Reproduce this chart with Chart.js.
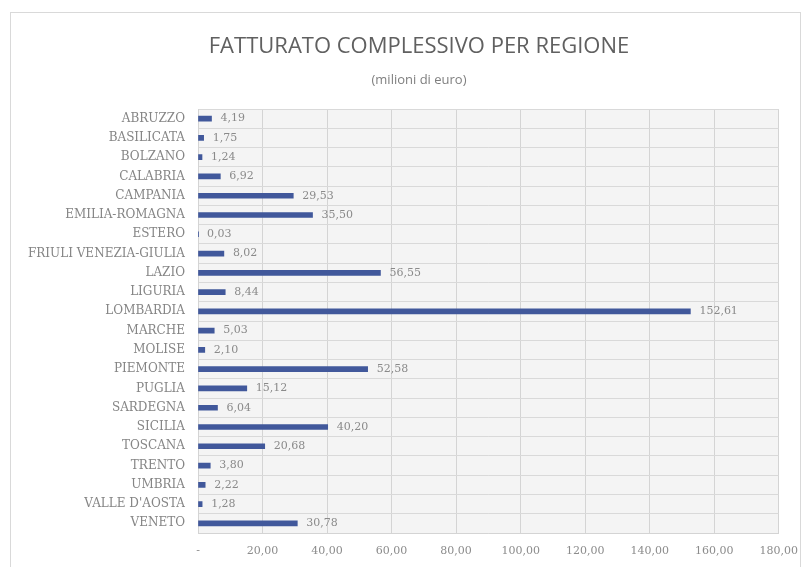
<!DOCTYPE html>
<html lang="it">
<head>
    <meta charset="UTF-8">
    <title>Fatturato complessivo per regione</title>
    <script src="https://cdn.jsdelivr.net/npm/chart.js"></script>
    <style>
        html, body { margin: 0; padding: 0; background: #ffffff; }
        #box { width: 810px; height: 567px; }
    </style>
</head>
<body>
<div id="box"><canvas id="fatturatoChart"></canvas></div>

<script>
    const regioni = ['ABRUZZO', 'BASILICATA', 'BOLZANO', 'CALABRIA', 'CAMPANIA', 'EMILIA-ROMAGNA', 'ESTERO',
        'FRIULI VENEZIA-GIULIA', 'LAZIO', 'LIGURIA', 'LOMBARDIA', 'MARCHE', 'MOLISE', 'PIEMONTE', 'PUGLIA',
        'SARDEGNA', 'SICILIA', 'TOSCANA', 'TRENTO', 'UMBRIA', "VALLE D'AOSTA", 'VENETO'];
    const fatturato = [4.19, 1.75, 1.24, 6.92, 29.53, 35.50, 0.03, 8.02, 56.55, 8.44, 152.61, 5.03, 2.10,
        52.58, 15.12, 6.04, 40.20, 20.68, 3.80, 2.22, 1.28, 30.78];
    const asseMin = 0;
    const asseMax = 180;
    const asseStep = 20;
    const titolo = 'FATTURATO COMPLESSIVO PER REGIONE';
    const sottotitolo = '(milioni di euro)';

    const virgola = v => v.toFixed(2).replace('.', ',');

    // cornice, sfondo dell'area e titoli (il titolo non e' centrato sul canvas)
    const sfondo = {
        id: 'sfondo',
        beforeDraw(chart) {
            const { ctx, chartArea: a } = chart;
            ctx.save();
            ctx.strokeStyle = '#d9d9d9';
            ctx.lineWidth = 1;
            ctx.strokeRect(10.5, 12.5, 790, 560);
            ctx.fillStyle = '#f4f4f4';
            ctx.fillRect(a.left, a.top, a.right - a.left, a.bottom - a.top);

            ctx.textAlign = 'center';
            ctx.textBaseline = 'middle';
            ctx.fillStyle = '#606060';
            ctx.font = '22px "Open Sans"';
            ctx.fillText(titolo, 419, 47);
            ctx.fillStyle = '#7f7f7f';
            ctx.font = '13px "Open Sans"';
            ctx.fillText(sottotitolo, 419, 80);
            ctx.restore();
        }
    };

    // etichette dei valori accanto alle barre
    const etichette = {
        id: 'etichette',
        afterDatasetsDraw(chart) {
            const { ctx } = chart;
            const meta = chart.getDatasetMeta(0);
            ctx.save();
            ctx.font = '11px "DejaVu Serif"';
            ctx.fillStyle = '#8a8a8a';
            ctx.textBaseline = 'middle';
            meta.data.forEach((bar, i) => {
                ctx.fillText(virgola(fatturato[i]), bar.x + 9, bar.y);
            });
            ctx.restore();
        }
    };

    new Chart(document.getElementById('fatturatoChart'), {
        type: 'bar',
        data: {
            labels: regioni,
            datasets: [{
                data: fatturato,
                backgroundColor: '#41589b',
                barThickness: 5
            }]
        },
        options: {
            indexAxis: 'y',
            responsive: true,
            maintainAspectRatio: false,
            animation: false,
            layout: { padding: { top: 109, left: 10, right: 28, bottom: 8 } },
            plugins: {
                legend: { display: false },
                tooltip: { enabled: false },
                title: { display: false }
            },
            scales: {
                x: {
                    min: asseMin,
                    max: asseMax,
                    ticks: {
                        stepSize: asseStep,
                        color: '#8c8c8c',
                        font: { family: '"DejaVu Serif"', size: 11 },
                        padding: 12,
                        callback: v => v === 0 ? '-' : virgola(v)
                    },
                    grid: { color: '#d4d4d4', drawTicks: false },
                    border: { color: '#d4d4d4' },
                    afterFit(scale) { scale.height = 26; }
                },
                y: {
                    ticks: {
                        color: '#858585',
                        font: { family: '"DejaVu Serif"', size: 12 },
                        padding: 13
                    },
                    grid: { color: '#d9d9d9', drawTicks: false, offset: true },
                    border: { color: '#d4d4d4' },
                    afterFit(scale) { scale.width = 188; }
                }
            }
        },
        plugins: [sfondo, etichette]
    });
</script>
</body>
</html>
